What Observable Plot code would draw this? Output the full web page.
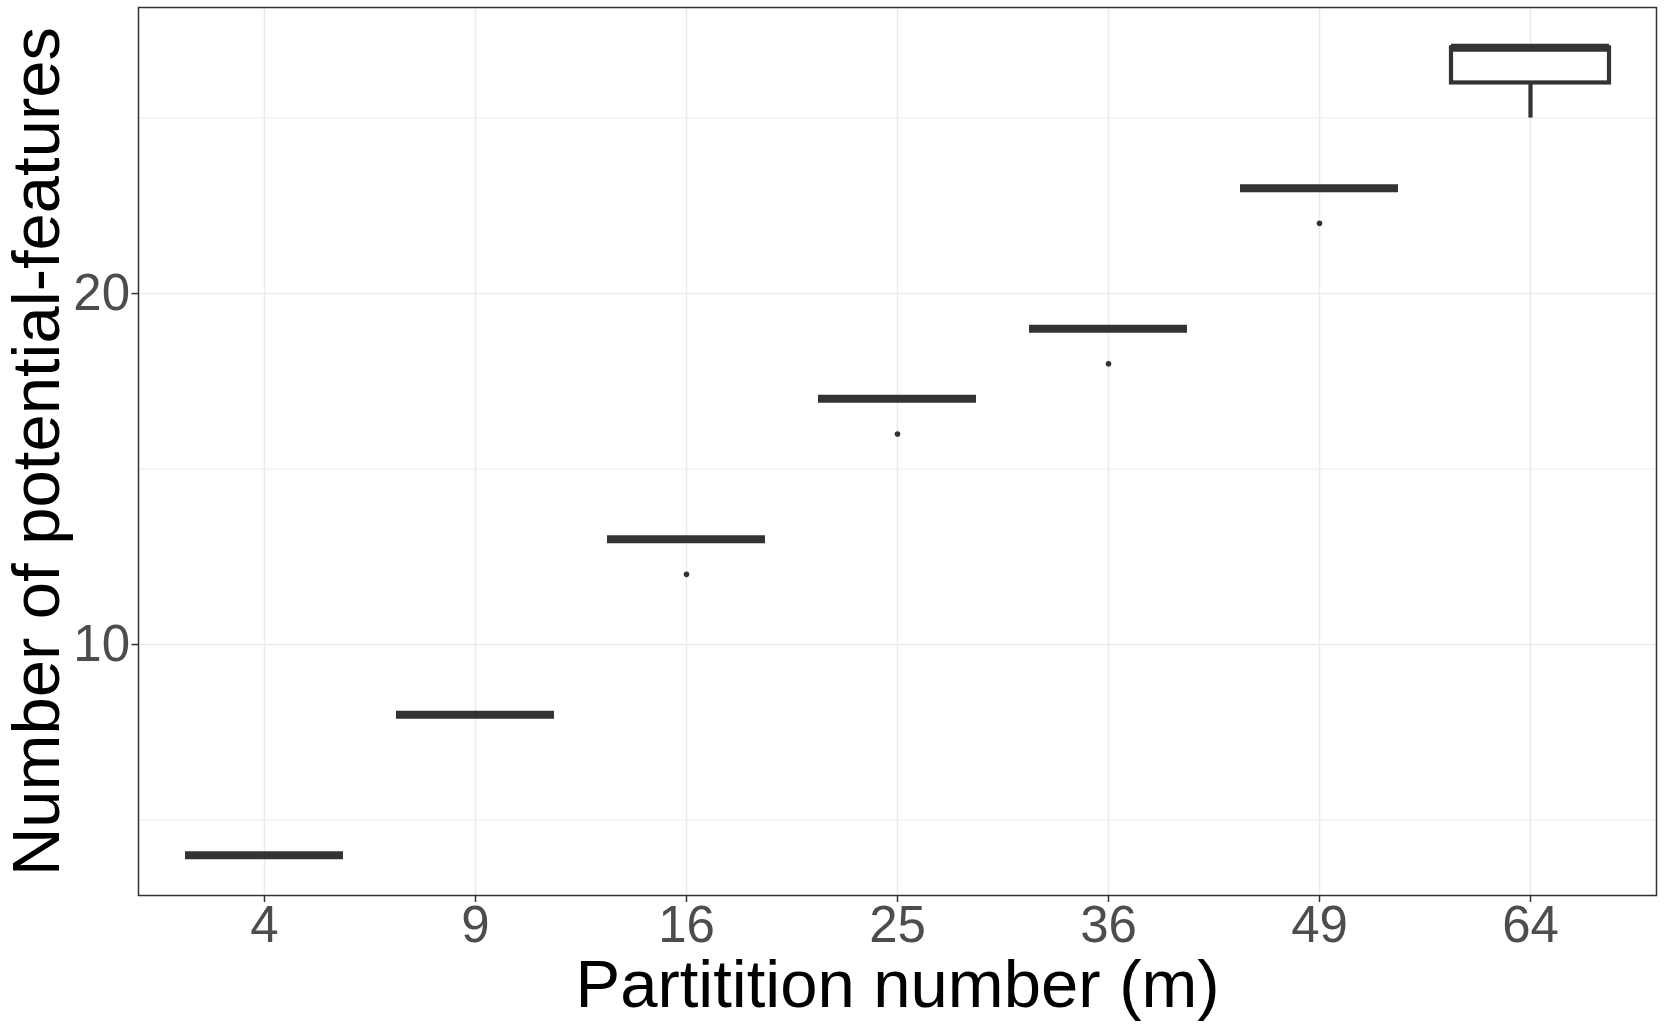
<!DOCTYPE html>
<html>
<head>
<meta charset="utf-8">
<script src="https://cdn.jsdelivr.net/npm/d3@7"></script>
<script src="https://cdn.jsdelivr.net/npm/@observablehq/plot@0.6"></script>
<style>
  html, body { margin: 0; padding: 0; background: #fff; }
</style>
</head>
<body>
<div id="chart"></div>
<script>
// Categories (partition number m)
const categories = ["4", "9", "16", "25", "36", "49", "64"];
// Box summaries (number of potential-features)
const q1      = [4, 8, 13, 17, 19, 23, 26];
const median  = [4, 8, 13, 17, 19, 23, 27];
const q3      = [4, 8, 13, 17, 19, 23, 27];
const whiskLo = [4, 8, 13, 17, 19, 23, 25];
const whiskHi = [4, 8, 13, 17, 19, 23, 27];
// Outliers
const outlierCat = ["16", "25", "36", "49"];
const outlierVal = [12, 16, 18, 22];
// Axis ticks
const yMajor = [10, 20];
const yMinor = [5, 15, 25];
const xTitle = "Partitition number (m)";
const yTitle = "Number of potential-features";

const boxes = categories.map((m, i) => ({
  m, q1: q1[i], median: median[i], q3: q3[i], lo: whiskLo[i], hi: whiskHi[i]
}));
const outliers = outlierCat.map((m, i) => ({m, v: outlierVal[i]}));

const ink = "#333333";
const grid = "#EBEBEB";

const chart = Plot.plot({
  width: 1664,
  height: 1026,
  marginLeft: 138,
  marginRight: 8,
  marginTop: 7,
  marginBottom: 131,
  style: {fontFamily: "'Liberation Sans', Arial, sans-serif", background: "#fff"},
  x: {type: "band", domain: categories, paddingInner: 0.25, paddingOuter: 0.22, label: null},
  y: {domain: [2.85, 28.15], label: null},
  marks: [
    Plot.gridY(yMinor, {stroke: grid, strokeOpacity: 1, strokeWidth: 1}),
    Plot.gridY(yMajor, {stroke: grid, strokeOpacity: 1, strokeWidth: 1.5}),
    Plot.gridX(categories, {stroke: grid, strokeOpacity: 1, strokeWidth: 1.5}),
    Plot.ruleX(boxes.filter(d => d.lo < d.q1), {x: "m", y1: "lo", y2: "q1", stroke: ink, strokeWidth: 4.2}),
    Plot.ruleX(boxes.filter(d => d.hi > d.q3), {x: "m", y1: "q3", y2: "hi", stroke: ink, strokeWidth: 4.2}),
    Plot.barY(boxes.filter(d => d.q3 > d.q1), {x: "m", y1: "q1", y2: "q3", fill: "white", stroke: ink, strokeWidth: 4.2}),
    Plot.tickY(boxes, {x: "m", y: "median", stroke: ink, strokeWidth: 8}),
    Plot.dot(outliers, {x: "m", y: "v", r: 2.8, fill: ink, stroke: null}),
    Plot.frame({stroke: ink, strokeWidth: 1.5}),
    Plot.axisY({ticks: yMajor, tickSize: 6.5, tickPadding: 2, fontSize: 51, stroke: ink, fill: "#4D4D4D", strokeWidth: 1.5, label: null}),
    Plot.axisX({tickSize: 7, tickPadding: 3, fontSize: 51, stroke: ink, fill: "#4D4D4D", strokeWidth: 1.5, label: null}),
    Plot.text([xTitle], {frameAnchor: "bottom", textAnchor: "middle", lineAnchor: "bottom", dy: 111, fontSize: 67, fill: "black", text: d => d}),
    Plot.text([yTitle], {frameAnchor: "left", textAnchor: "middle", lineAnchor: "bottom", rotate: -90, dx: -79.6, fontSize: 67, fill: "black", text: d => d})
  ]
});
document.getElementById("chart").appendChild(chart);
</script>
</body>
</html>
